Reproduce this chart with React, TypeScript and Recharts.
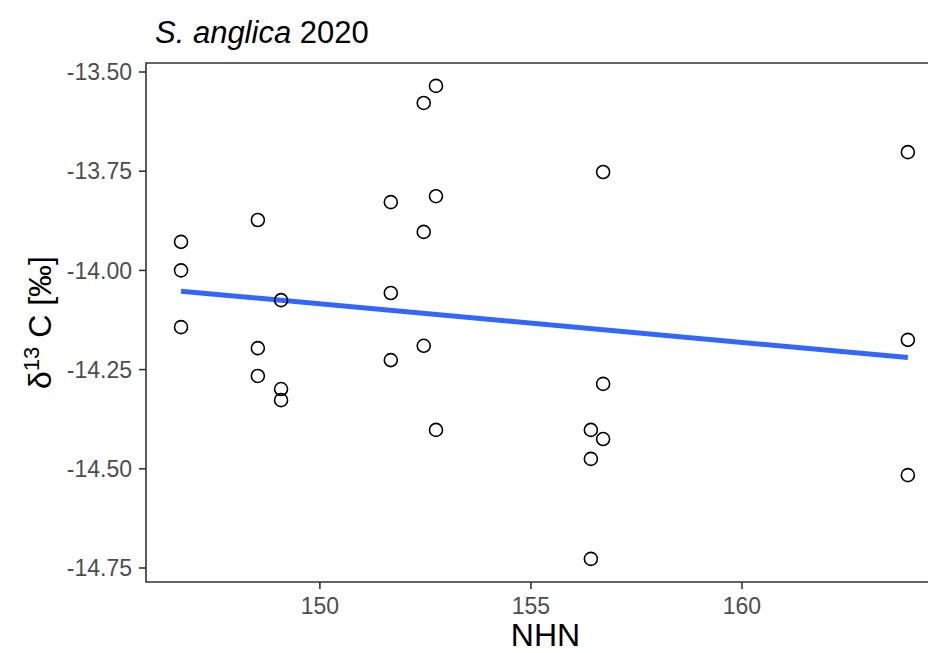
import { ScatterChart, Scatter, XAxis, YAxis, ReferenceArea, Label } from 'recharts'

// NHN elevation (x) and δ13C value (y) of each S. anglica sample
const nhn = [
  146.71, 146.71, 146.71,
  148.53, 148.53, 148.53,
  149.08, 149.08, 149.08,
  151.68, 151.68, 151.68,
  152.46, 152.46, 152.46,
  152.75, 152.75, 152.75,
  156.42, 156.42, 156.42,
  156.71, 156.71, 156.71,
  163.93, 163.93, 163.93
]
const d13c = [
  -13.928, -14.0, -14.143,
  -13.873, -14.196, -14.266,
  -14.075, -14.299, -14.327,
  -13.828, -14.057, -14.226,
  -13.578, -13.903, -14.19,
  -13.535, -13.813, -14.402,
  -14.402, -14.475, -14.727,
  -13.752, -14.286, -14.425,
  -13.702, -14.175, -14.516
]

const xTicks = [150, 155, 160]
const yTicks = [-14.75, -14.5, -14.25, -14.0, -13.75, -13.5]
const xDomain = [145.88, 164.81]
const yDomain = [-14.7853, -13.4773]

const FONT = '"Liberation Sans", Arial, Helvetica, sans-serif'

const points = nhn.map((x, i) => ({ x, y: d13c[i] }))

// ordinary least squares fit, drawn across the observed x range
function linearFit (xs: number[], ys: number[]) {
  const n = xs.length
  const mx = xs.reduce((a, b) => a + b, 0) / n
  const my = ys.reduce((a, b) => a + b, 0) / n
  let sxy = 0
  let sxx = 0
  xs.forEach((x, i) => {
    sxy += (x - mx) * (ys[i] - my)
    sxx += (x - mx) * (x - mx)
  })
  const slope = sxy / sxx
  const xMin = Math.min(...xs)
  const xMax = Math.max(...xs)
  return [
    { x: xMin, y: my + slope * (xMin - mx) },
    { x: xMax, y: my + slope * (xMax - mx) }
  ]
}

const trend = linearFit(nhn, d13c)

const OpenCircle = (props: any) => {
  const { cx, cy } = props
  return <circle cx={cx} cy={cy} r={6.5} fill="none" stroke="#000" strokeWidth={1.6} />
}

const NoDot = () => <g />

const XTitle = (props: any) => {
  const { viewBox } = props
  return (
    <text
      x={viewBox.x + viewBox.width / 2}
      y={viewBox.y + viewBox.height - 7}
      textAnchor="middle"
      fontFamily={FONT}
      fontSize={32}
      fill="#000">
      NHN
    </text>
  )
}

const YTitle = (props: any) => {
  const { viewBox } = props
  const x = viewBox.x + 43
  const y = viewBox.y + viewBox.height / 2
  return (
    <text
      x={x}
      y={y}
      transform={`rotate(-90 ${x} ${y})`}
      textAnchor="middle"
      fontFamily={FONT}
      fontSize={32}
      fill="#000">
      <tspan>δ</tspan>
      <tspan dy={-12} fontSize={22}>13</tspan>
      <tspan dy={12}> C [‰]</tspan>
    </text>
  )
}

const tickStyle = { fill: '#4D4D4D', fontSize: 23, fontFamily: FONT }

export default function App () {
  return (
    <div style={{ position: 'relative', width: 928, height: 645, overflow: 'hidden' }}>
      <svg width={420} height={50} style={{ position: 'absolute', left: 0, top: 0 }}>
        <text x={147} y={35} fontFamily={FONT} fontSize={31} fill="#000">
          <tspan fontStyle="italic">S. anglica</tspan>
          <tspan> 2020</tspan>
        </text>
      </svg>
      <ScatterChart width={960} height={645} margin={{ top: 55, right: 23, bottom: 0, left: 0 }}>
        <XAxis
          type="number"
          dataKey="x"
          domain={xDomain}
          ticks={xTicks}
          allowDataOverflow
          height={71}
          axisLine={false}
          tickSize={7}
          tickMargin={9}
          tickLine={{ stroke: '#333333', strokeWidth: 1.6 }}
          tick={tickStyle}>
          <Label content={<XTitle />} />
        </XAxis>
        <YAxis
          type="number"
          dataKey="y"
          domain={yDomain}
          ticks={yTicks}
          allowDataOverflow
          width={138}
          axisLine={false}
          tickSize={7}
          tickMargin={7}
          tickLine={{ stroke: '#333333', strokeWidth: 1.6 }}
          tick={tickStyle}
          tickFormatter={(v: number) => v.toFixed(2)}>
          <Label content={<YTitle />} />
        </YAxis>
        <ReferenceArea
          x1={xDomain[0]}
          x2={xDomain[1]}
          y1={yDomain[0]}
          y2={yDomain[1]}
          fill="none"
          stroke="#333333"
          strokeWidth={1.6}
          ifOverflow="visible" />
        <Scatter
          data={trend}
          line={{ stroke: '#3366FF', strokeWidth: 5 }}
          shape={<NoDot />}
          isAnimationActive={false} />
        <Scatter data={points} shape={<OpenCircle />} isAnimationActive={false} />
      </ScatterChart>
    </div>
  )
}
